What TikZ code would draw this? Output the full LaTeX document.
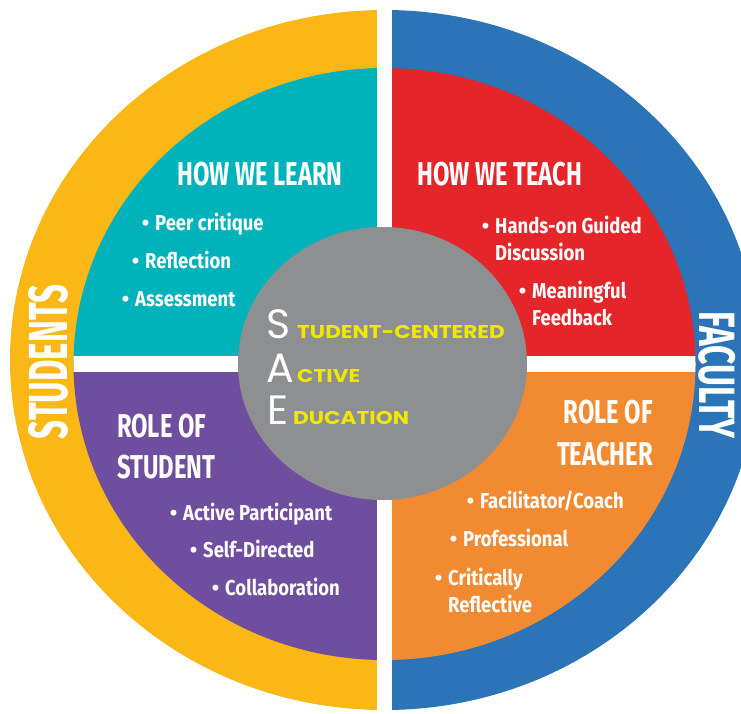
\documentclass[tikz,border=0pt]{standalone}
\usepackage{fontspec}
\usepackage{graphicx}
\setmainfont{Fira Sans}
\newfontfamily\pfont{Poppins}

\definecolor{ringY}{HTML}{FBB715}
\definecolor{ringB}{HTML}{2B74B8}
\definecolor{qTeal}{HTML}{00B2BA}
\definecolor{qRed}{HTML}{E4262B}
\definecolor{qPurple}{HTML}{6F4E9F}
\definecolor{qOrange}{HTML}{F28A31}
\definecolor{hubGray}{HTML}{8E8F91}
\definecolor{saeYellow}{HTML}{F0E800}

\newcommand{\sx}[2]{\scalebox{#1}[1]{#2}}
\newcommand{\hs}[1]{\scalebox{0.72}[1]{#1}}
\newcommand{\is}[1]{\scalebox{0.86}[1]{#1}}
\newcommand{\bul}{\llap{•\hspace{6pt}}}

\tikzset{
  head/.style={text=white, inner sep=0pt, anchor=base west, font=\fontsize{33}{33}\selectfont\bfseries},
  headr/.style={head, anchor=base east},
  item/.style={text=white, inner sep=0pt, anchor=base west, font=\fontsize{21.5}{27}\selectfont\bfseries},
  ringtext/.style={text=white, inner sep=0pt, anchor=center, font=\fontsize{55}{55}\selectfont\bfseries},
  bigletter/.style={text=white, inner sep=0pt, anchor=base west, font=\pfont\fontsize{41}{41}\selectfont},
  yel/.style={text=saeYellow, inner sep=0pt, anchor=base west, font=\pfont\fontsize{18.5}{18.5}\selectfont\bfseries},
}

\begin{document}
\begin{tikzpicture}[x=1pt,y=-1pt]
\useasboundingbox (0,0) rectangle (741,713);
\clip (0,0) rectangle (741,713);

% outer ring halves
\begin{scope}
  \clip (0,0) rectangle (384.5,713);
  \fill[ringY] (384.5,360) ellipse [x radius=374.5pt, y radius=350pt];
\end{scope}
\begin{scope}
  \clip (384.5,0) rectangle (741,713);
  \fill[ringB] (384.5,360) ellipse [x radius=374.5pt, y radius=350pt];
\end{scope}

% inner quadrants
\begin{scope}
  \clip (384.5,364) ellipse [x radius=311pt, y radius=296pt];
  \fill[qTeal] (0,0) rectangle (384.5,364);
  \fill[qRed] (384.5,0) rectangle (741,364);
  \fill[qPurple] (0,364) rectangle (384.5,713);
  \fill[qOrange] (384.5,364) rectangle (741,713);
  \fill[white] (0,356) rectangle (741,372);
\end{scope}
\fill[white] (377,0) rectangle (392,713);

% hub
\fill[hubGray] (382.5,363.5) ellipse [x radius=144.5pt, y radius=136.5pt];

% ring labels
\node[ringtext, rotate=90] (students) at (48,362) {\sx{0.6}{STUDENTS}};
\node[ringtext, rotate=-90, font=\fontsize{51}{51}\selectfont\bfseries] (faculty) at (717,375) {\sx{0.66}{FACULTY}};

% headings
\node[head] (learn) at (177,185) {\hs{HOW WE LEARN}};
\node[head] (teach) at (417,185) {\hs{HOW WE TEACH}};
\node[head] (rs1) at (117,437) {\hs{ROLE OF}};
\node[head] (rs2) at (117,478) {\hs{STUDENT}};
\node[headr] (rt1) at (653,423) {\hs{ROLE OF}};
\node[headr] (rt2) at (653,465) {\hs{TEACHER}};

% teal items
\node[item] (l1) at (155,230) {\bul\is{Peer critique}};
\node[item] (l2) at (145,268) {\bul\is{Reflection}};
\node[item] (l3) at (135,306) {\bul\is{Assessment}};

% red items
\node[item] (t1) at (495,233) {\bul\is{Hands-on Guided}};
\node[item] (t1b) at (495,260) {\is{Discussion}};
\node[item] (t2) at (532,298) {\bul\is{Meaningful}};
\node[item] (t2b) at (532,325) {\is{Feedback}};

% purple items
\node[item] (s1) at (183,520) {\bul\is{Active Participant}};
\node[item] (s2) at (203,557) {\bul\is{Self-Directed}};
\node[item] (s3) at (225,595) {\bul\is{Collaboration}};

% orange items
\node[item] (r1) at (480,508) {\bul\is{Facilitator/Coach}};
\node[item] (r2) at (463,546) {\bul\is{Professional}};
\node[item] (r3) at (448,585) {\bul\is{Critically}};
\node[item] (r3b) at (448,612) {\is{Reflective}};

% hub text
\node[bigletter] (bS) at (266,338) {S};
\node[yel] (wS) at (297,338) {\sx{1.17}{TUDENT-CENTERED}};
\node[bigletter] (bA) at (266,382) {A};
\node[yel] (wA) at (297,382) {\sx{1.17}{CTIVE}};
\node[bigletter] (bE) at (267,424) {E};
\node[yel] (wE) at (293,424) {\sx{1.17}{DUCATION}};
\end{tikzpicture}
\end{document}
